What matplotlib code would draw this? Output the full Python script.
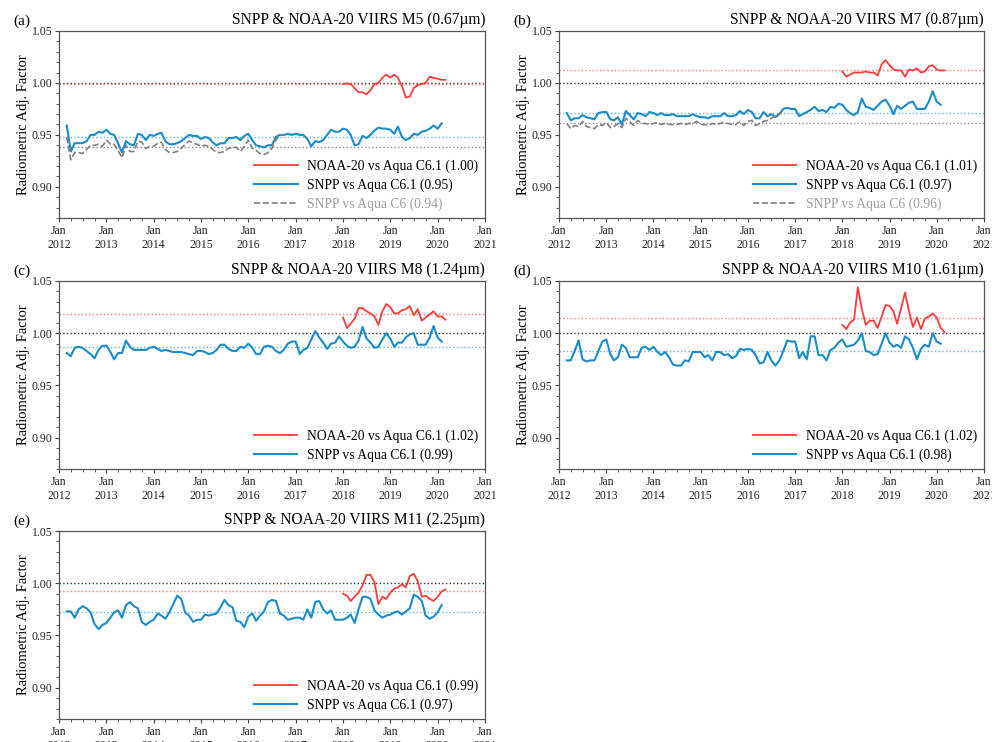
import numpy as np
import pandas as pd
import matplotlib
matplotlib.use('Agg')
import matplotlib.pyplot as plt
import matplotlib.dates as mdates
from matplotlib.ticker import MultipleLocator, FormatStrFormatter

plt.rcParams['font.family'] = ['Liberation Serif', 'DejaVu Serif']

# monthly time axes
snpp_months = pd.date_range('2012-03-01', '2020-02-01', freq='MS')
noaa_months = pd.date_range('2018-01-01', '2020-03-01', freq='MS')
c6_months = pd.date_range('2012-03-01', '2016-10-01', freq='MS')

# (a) M5
snpp_m5 = [0.959, 0.934, 0.942, 0.942, 0.942, 0.944, 0.950, 0.950, 0.953, 0.952,
           0.955, 0.951, 0.950, 0.942, 0.933, 0.944, 0.941, 0.940, 0.951, 0.950, 0.945, 0.950,
           0.949, 0.951, 0.952, 0.944, 0.941, 0.941, 0.942, 0.944, 0.947, 0.950, 0.949, 0.949,
           0.946, 0.948, 0.947, 0.943, 0.940, 0.942, 0.942, 0.947, 0.947, 0.948, 0.945, 0.949,
           0.951, 0.945, 0.940, 0.939, 0.938, 0.940, 0.940, 0.948, 0.950, 0.950, 0.951, 0.950,
           0.951, 0.950, 0.950, 0.946, 0.939, 0.944, 0.943, 0.945, 0.950, 0.955, 0.953, 0.953,
           0.956, 0.955, 0.950, 0.940, 0.941, 0.949, 0.947, 0.950, 0.954, 0.957, 0.956, 0.956,
           0.955, 0.951, 0.958, 0.948, 0.945, 0.947, 0.951, 0.950, 0.953, 0.954, 0.956, 0.959,
           0.956, 0.961]
c6_m5 = [0.948, 0.926, 0.933, 0.933, 0.932, 0.936, 0.940, 0.940, 0.941, 0.939,
         0.945, 0.941, 0.941, 0.935, 0.928, 0.940, 0.934, 0.934, 0.944, 0.943, 0.937, 0.939,
         0.939, 0.942, 0.943, 0.936, 0.933, 0.933, 0.934, 0.937, 0.941, 0.944, 0.942, 0.941,
         0.939, 0.940, 0.939, 0.936, 0.933, 0.933, 0.934, 0.937, 0.938, 0.938, 0.934, 0.939,
         0.945, 0.937, 0.935, 0.932, 0.931, 0.933, 0.937, 0.945, 0.950, 0.950]
noaa_m5 = [0.999, 0.9995, 0.999, 0.995, 0.991, 0.991, 0.989, 0.993, 0.999, 1.000, 1.005, 1.008,
           1.005, 1.008, 1.005, 0.997, 0.986, 0.987, 0.995, 0.998, 0.999, 1.000, 1.006, 1.005,
           1.004, 1.003, 1.003]

# (b) M7
snpp_m7 = [0.971, 0.964, 0.966, 0.966, 0.969, 0.967, 0.966, 0.965, 0.971, 0.972,
           0.972, 0.965, 0.964, 0.967, 0.960, 0.973, 0.969, 0.965, 0.971, 0.970, 0.968, 0.972,
           0.971, 0.969, 0.971, 0.969, 0.969, 0.970, 0.968, 0.968, 0.968, 0.968, 0.970, 0.968,
           0.967, 0.967, 0.966, 0.968, 0.968, 0.968, 0.971, 0.968, 0.968, 0.969, 0.973, 0.970,
           0.974, 0.972, 0.966, 0.966, 0.972, 0.968, 0.970, 0.967, 0.970, 0.975, 0.976, 0.975,
           0.975, 0.968, 0.970, 0.972, 0.974, 0.977, 0.973, 0.974, 0.972, 0.977, 0.976, 0.980,
           0.979, 0.974, 0.971, 0.969, 0.972, 0.985, 0.977, 0.976, 0.974, 0.978, 0.982, 0.984,
           0.978, 0.970, 0.978, 0.975, 0.978, 0.981, 0.982, 0.975, 0.975, 0.975, 0.982, 0.992,
           0.982, 0.979]
c6_m7 = [0.961, 0.956, 0.959, 0.958, 0.963, 0.958, 0.957, 0.956, 0.960, 0.959,
         0.962, 0.957, 0.958, 0.961, 0.957, 0.966, 0.963, 0.959, 0.964, 0.961, 0.961, 0.960,
         0.961, 0.962, 0.960, 0.961, 0.960, 0.960, 0.960, 0.961, 0.960, 0.961, 0.961, 0.963,
         0.960, 0.960, 0.959, 0.961, 0.960, 0.961, 0.962, 0.961, 0.960, 0.960, 0.963, 0.959,
         0.963, 0.964, 0.959, 0.961, 0.963, 0.964, 0.966, 0.968, 0.970, 0.974]
noaa_m7 = [1.011, 1.006, 1.008, 1.010, 1.010, 1.010, 1.011, 1.010, 1.010, 1.007, 1.018, 1.022,
           1.017, 1.013, 1.012, 1.012, 1.006, 1.013, 1.012, 1.014, 1.010, 1.011, 1.016, 1.017,
           1.013, 1.012, 1.012]

# (c) M8
snpp_m8 = [0.981, 0.978, 0.986, 0.987, 0.986, 0.983, 0.980, 0.976, 0.984, 0.988,
           0.988, 0.982, 0.975, 0.981, 0.981, 0.993, 0.987, 0.984, 0.984, 0.984, 0.984, 0.986,
           0.987, 0.985, 0.983, 0.984, 0.983, 0.982, 0.982, 0.982, 0.981, 0.980, 0.979, 0.983,
           0.983, 0.982, 0.980, 0.981, 0.984, 0.989, 0.989, 0.985, 0.983, 0.983, 0.987, 0.986,
           0.990, 0.986, 0.980, 0.980, 0.987, 0.988, 0.987, 0.983, 0.981, 0.984, 0.990, 0.992,
           0.992, 0.980, 0.984, 0.986, 0.994, 1.002, 0.996, 0.991, 0.985, 0.990, 0.991, 0.997,
           0.992, 0.988, 0.986, 0.987, 0.993, 1.006, 0.995, 0.991, 0.986, 0.987, 0.994, 1.000,
           0.995, 0.987, 0.991, 0.991, 0.996, 0.999, 1.000, 0.989, 0.989, 0.989, 0.996, 1.007,
           0.996, 0.992]
noaa_m8 = [1.015, 1.005, 1.009, 1.014, 1.024, 1.024, 1.021, 1.019, 1.016, 1.008, 1.021, 1.028,
           1.025, 1.019, 1.019, 1.022, 1.023, 1.026, 1.017, 1.023, 1.012, 1.015, 1.018, 1.021,
           1.016, 1.016, 1.013]

# (d) M10
snpp_m10 = [0.974, 0.974, 0.983, 0.993, 0.975, 0.973, 0.974, 0.974, 0.983, 0.992,
            0.994, 0.980, 0.974, 0.977, 0.989, 0.986, 0.977, 0.977, 0.977, 0.986, 0.987, 0.984,
            0.987, 0.982, 0.979, 0.982, 0.977, 0.970, 0.969, 0.969, 0.974, 0.973, 0.982, 0.982,
            0.982, 0.977, 0.979, 0.974, 0.982, 0.982, 0.979, 0.980, 0.976, 0.978, 0.985, 0.984,
            0.985, 0.984, 0.979, 0.971, 0.972, 0.982, 0.974, 0.969, 0.974, 0.983, 0.993, 0.992,
            0.992, 0.976, 0.982, 0.975, 0.997, 0.997, 0.979, 0.979, 0.974, 0.984, 0.986, 0.991,
            0.994, 0.987, 0.988, 0.989, 0.993, 1.000, 0.983, 0.982, 0.979, 0.980, 0.990, 1.000,
            0.991, 0.987, 0.989, 0.986, 0.997, 0.994, 0.986, 0.975, 0.985, 0.989, 0.987, 1.000,
            0.992, 0.990]
noaa_m10 = [1.008, 1.004, 1.010, 1.013, 1.044, 1.023, 1.008, 1.012, 1.012, 1.005, 1.016, 1.027,
            1.026, 1.021, 1.009, 1.024, 1.039, 1.021, 1.006, 1.015, 1.004, 1.014, 1.016, 1.019,
            1.015, 1.005, 1.001]

# (e) M11
snpp_m11 = [0.973, 0.973, 0.967, 0.975, 0.978, 0.976, 0.972, 0.961, 0.956, 0.960,
            0.962, 0.967, 0.972, 0.974, 0.967, 0.979, 0.982, 0.978, 0.976, 0.963, 0.960, 0.963,
            0.965, 0.971, 0.969, 0.966, 0.972, 0.980, 0.988, 0.985, 0.972, 0.969, 0.963, 0.965,
            0.965, 0.970, 0.969, 0.970, 0.971, 0.977, 0.984, 0.979, 0.977, 0.964, 0.963, 0.958,
            0.968, 0.971, 0.964, 0.969, 0.973, 0.982, 0.984, 0.983, 0.971, 0.969, 0.965, 0.966,
            0.967, 0.967, 0.965, 0.975, 0.967, 0.982, 0.983, 0.975, 0.971, 0.974, 0.965, 0.965,
            0.965, 0.967, 0.970, 0.962, 0.975, 0.987, 0.987, 0.985, 0.974, 0.970, 0.967, 0.969,
            0.970, 0.972, 0.973, 0.970, 0.973, 0.976, 0.989, 0.987, 0.983, 0.969, 0.966, 0.968,
            0.972, 0.979]
noaa_m11 = [0.990, 0.988, 0.983, 0.987, 0.991, 0.998, 1.008, 1.008, 1.001, 0.980, 0.987, 0.985,
            0.991, 0.995, 0.996, 0.999, 0.996, 1.007, 1.009, 1.002, 0.987, 0.988, 0.985, 0.983,
            0.987, 0.992, 0.994]

# mean reference levels (noaa, snpp, c6) and legend values
levels = {
    'M5': (0.999, 0.948, 0.938),
    'M7': (1.012, 0.971, 0.961),
    'M8': (1.018, 0.987, None),
    'M10': (1.015, 0.983, None),
    'M11': (0.993, 0.972, None),
}
legend_vals = {
    'M5': ('1.00', '0.95', '0.94'),
    'M7': ('1.01', '0.97', '0.96'),
    'M8': ('1.02', '0.99', None),
    'M10': ('1.02', '0.98', None),
    'M11': ('0.99', '0.97', None),
}

panels = [
    ('(a)', 'M5', '0.67', snpp_m5, noaa_m5, c6_m5),
    ('(b)', 'M7', '0.87', snpp_m7, noaa_m7, c6_m7),
    ('(c)', 'M8', '1.24', snpp_m8, noaa_m8, None),
    ('(d)', 'M10', '1.61', snpp_m10, noaa_m10, None),
    ('(e)', 'M11', '2.25', snpp_m11, noaa_m11, None),
]

W, H = 992, 742
boxes = [(59, 31, 485, 218), (559, 31, 984, 218),
         (59, 281, 485, 469), (559, 281, 984, 469),
         (59, 531, 485, 719)]

RED = '#ff3b3b'
BLUE = '#1a8ccb'
GRAY = '#808080'

fig = plt.figure(figsize=(W / 100, H / 100), dpi=100)

for (letter, band, wl, snpp, noaa, c6), (x0, y0, x1, y1) in zip(panels, boxes):
    ax = fig.add_axes([x0 / W, 1 - y1 / H, (x1 - x0) / W, (y1 - y0) / H])
    lv = levels[band]
    lg = legend_vals[band]

    ax.axhline(1.0, color='#333333', ls=':', lw=1.0)
    ax.axhline(lv[0], color='#ff7a7a', ls=':', lw=1.0)
    ax.axhline(lv[1], color='#5fb4e6', ls=':', lw=1.0)
    if c6 is not None:
        ax.axhline(lv[2], color='#8a8a8a', ls=':', lw=1.0)

    ax.plot(noaa_months, noaa, color=RED, lw=1.3,
            label='NOAA-20 vs Aqua C6.1 (%s)' % lg[0])
    ax.plot(snpp_months, snpp, color=BLUE, lw=1.5,
            label='SNPP vs Aqua C6.1 (%s)' % lg[1])
    if c6 is not None:
        ax.plot(c6_months, c6, color=GRAY, ls='--', lw=1.2,
                label='SNPP vs Aqua C6 (%s)' % lg[2])

    ax.set_xlim(pd.Timestamp('2012-01-01'), pd.Timestamp('2021-01-01'))
    ax.set_ylim(0.87, 1.05)
    ax.set_yticks([0.90, 0.95, 1.00, 1.05])
    ax.yaxis.set_major_formatter(FormatStrFormatter('%.2f'))
    ax.yaxis.set_minor_locator(MultipleLocator(0.01))
    ax.xaxis.set_major_locator(mdates.YearLocator())
    ax.xaxis.set_minor_locator(mdates.MonthLocator(bymonth=[4, 7, 10]))
    ax.xaxis.set_major_formatter(mdates.DateFormatter('%b\n%Y'))
    ax.tick_params(axis='both', which='major', labelsize=8.5, length=3,
                   colors='#444444', labelcolor='#222222')
    ax.tick_params(axis='x', which='major', pad=2)
    ax.tick_params(axis='y', which='major', pad=1.5)
    ax.tick_params(axis='both', which='minor', length=2, colors='#444444')
    for s in ax.spines.values():
        s.set_color('#555555')
        s.set_linewidth(0.9)

    ax.set_ylabel('Radiometric Adj. Factor', fontsize=10.5)
    ax.yaxis.set_label_coords(-0.068, 0.5)
    ax.set_title('SNPP & NOAA-20 VIIRS %s (%sµm)' % (band, wl),
                 loc='right', fontsize=11.2, pad=5)
    ax.text(-0.108, 1.053, letter, transform=ax.transAxes, fontsize=11,
            ha='left', va='center')

    leg = ax.legend(loc='lower right', frameon=False, fontsize=9.8,
                    handlelength=3.2, handletextpad=0.7, labelspacing=0.42,
                    borderaxespad=0.1)
    if c6 is not None:
        leg.get_texts()[2].set_color('#a0a0a0')

fig.savefig('out.png', dpi=100)
